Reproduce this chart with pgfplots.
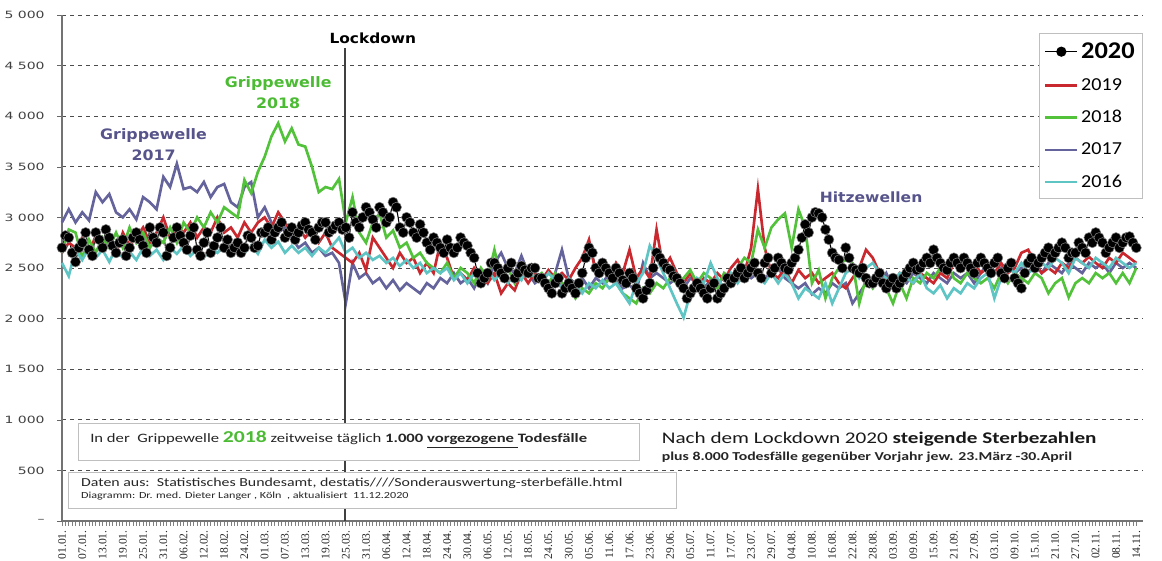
\documentclass[border=0pt]{standalone}
\usepackage{fontspec}
\setmainfont{Carlito}[FakeStretch=1.3]
\newfontfamily\legf{Carlito}[FakeStretch=1.1]
\newfontfamily\dvs{DejaVu Sans}[FakeStretch=1.1]
\newfontfamily\tickf{DejaVu Sans}[FakeStretch=1.4]
\newfontfamily\tms{Liberation Serif}
\usepackage{pgfplots}
\usepackage{pgfplotstable}
\pgfplotsset{compat=1.18}
\definecolor{c19}{HTML}{C8282E}
\definecolor{c18}{HTML}{52C23A}
\definecolor{c17}{HTML}{65639C}
\definecolor{c16}{HTML}{5EC4C4}
\definecolor{txtp}{HTML}{56548A}
\definecolor{txtg}{HTML}{4CBB34}

\pgfplotstableread{
d b c e f
0 2650 2650 2950 2550
2 2750 2880 3080 2420
4 2700 2850 2950 2680
6 2800 2600 3050 2580
8 2650 2780 2970 2700
10 2820 2650 3250 2600
12 2700 2800 3150 2680
14 2780 2700 3230 2560
16 2650 2850 3050 2700
18 2850 2700 3000 2600
20 2720 2900 3080 2660
22 2800 2750 2980 2580
24 2900 2850 3200 2700
26 2750 2700 3150 2620
28 2850 2800 3080 2680
30 3000 2750 3400 2580
32 2800 2900 3300 2700
34 2900 2750 3530 2640
36 2850 2950 3280 2720
38 2950 2850 3300 2620
40 2800 3000 3250 2680
42 2900 2900 3350 2600
44 2850 3050 3200 2700
46 3000 2950 3300 2650
48 2850 3100 3330 2720
50 2900 3050 3150 2620
52 2800 3000 3100 2700
54 2950 3370 3300 2650
56 2850 3240 3350 2720
58 2950 3450 3000 2640
60 3000 3600 3100 2780
62 2900 3800 2950 2700
64 3050 3930 2850 2760
66 2950 3750 2900 2650
68 2850 3880 2800 2720
70 2900 3720 2700 2650
72 2800 3700 2750 2700
74 2880 3500 2650 2620
76 2750 3250 2700 2700
78 2850 3300 2620 2650
80 2700 3280 2650 2720
82 2650 3380 2550 2800
84 2600 2950 2150 2650
86 2550 3200 2550 2700
88 2650 2850 2400 2600
90 2480 2750 2450 2650
92 2800 2950 2350 2580
94 2700 3040 2400 2620
96 2600 2800 2300 2550
98 2500 2870 2380 2600
100 2650 2700 2280 2520
102 2550 2750 2350 2580
104 2600 2600 2300 2500
106 2450 2650 2250 2550
108 2550 2550 2350 2450
110 2450 2500 2300 2500
112 2750 2450 2400 2450
114 2600 2550 2350 2500
116 2400 2400 2450 2380
118 2450 2500 2350 2450
120 2380 2450 2400 2350
122 2500 2350 2300 2450
124 2400 2500 2450 2400
126 2350 2400 2350 2480
128 2450 2680 2550 2380
130 2250 2400 2650 2450
132 2350 2500 2500 2350
134 2280 2350 2450 2450
136 2450 2450 2620 2380
138 2350 2500 2450 2500
140 2450 2400 2350 2400
142 2380 2450 2400 2350
144 2480 2350 2300 2450
146 2400 2450 2450 2380
148 2450 2350 2680 2300
150 2380 2300 2400 2400
152 2500 2200 2350 2330
154 2600 2300 2400 2250
156 2780 2250 2300 2350
158 2450 2350 2400 2300
160 2500 2300 2350 2380
162 2400 2400 2450 2300
164 2550 2350 2400 2350
166 2450 2250 2300 2250
168 2680 2200 2330 2150
170 2400 2150 2270 2350
172 2500 2300 2550 2450
174 2400 2250 2400 2720
176 2880 2350 2450 2600
178 2500 2300 2400 2450
180 2600 2400 2350 2300
182 2450 2350 2400 2150
184 2350 2400 2300 2010
186 2450 2480 2400 2250
188 2300 2350 2350 2400
190 2400 2450 2300 2350
192 2350 2400 2380 2550
194 2450 2300 2350 2400
196 2380 2450 2400 2300
198 2500 2400 2350 2450
200 2580 2500 2400 2350
202 2450 2600 2450 2450
204 2700 2550 2400 2550
206 3280 2880 2450 2400
208 2700 2700 2400 2350
210 2450 2900 2450 2450
212 2400 2980 2500 2350
214 2500 3040 2400 2450
216 2350 2700 2350 2350
218 2480 3080 2300 2200
220 2400 2900 2350 2300
222 2450 2350 2240 2250
224 2350 2480 2300 2200
226 2400 2200 2250 2350
228 2450 2400 2350 2150
230 2350 2500 2300 2300
232 2300 2600 2350 2450
234 2400 2550 2150 2500
236 2500 2150 2250 2400
238 2680 2400 2350 2500
240 2600 2300 2400 2550
242 2450 2400 2350 2450
244 2400 2300 2450 2400
246 2350 2150 2300 2350
248 2450 2350 2400 2450
250 2400 2200 2350 2400
252 2350 2400 2450 2350
254 2450 2350 2400 2450
256 2400 2450 2350 2300
258 2350 2400 2450 2250
260 2450 2500 2400 2330
262 2400 2550 2350 2200
264 2550 2400 2450 2300
266 2600 2350 2400 2250
268 2500 2450 2450 2350
270 2550 2400 2350 2300
272 2450 2350 2450 2400
274 2500 2400 2550 2450
276 2450 2300 2450 2200
278 2550 2450 2500 2400
280 2450 2350 2550 2500
282 2500 2450 2450 2450
284 2650 2400 2500 2550
286 2680 2350 2450 2450
288 2550 2450 2550 2500
290 2450 2400 2450 2550
292 2500 2250 2550 2500
294 2450 2350 2500 2600
296 2550 2400 2450 2550
298 2500 2210 2550 2450
300 2600 2350 2500 2600
302 2550 2400 2450 2550
304 2610 2350 2550 2500
306 2550 2450 2500 2600
308 2500 2400 2550 2550
310 2600 2450 2450 2500
312 2550 2350 2550 2600
314 2650 2450 2500 2550
316 2600 2350 2550 2500
318 2550 2500 2500 2550
}\data

\begin{document}
\begin{tikzpicture}
\begin{axis}[
  scale only axis, width=810.75pt, height=379.5pt,
  xmin=0, xmax=320, ymin=0, ymax=5000,
  axis x line=bottom, axis y line=left,
  axis line style={-, black!55, line width=0.9pt},
  tick align=outside,
  major tick length=3.5pt, minor tick length=3.5pt,
  xtick={0,6,...,318},
  xticklabels={01.01.,07.01.,13.01.,19.01.,25.01.,31.01.,06.02.,12.02.,18.02.,24.02.,01.03.,07.03.,13.03.,19.03.,25.03.,31.03.,06.04.,12.04.,18.04.,24.04.,30.04.,06.05.,12.05.,18.05.,24.05.,30.05.,05.06.,11.06.,17.06.,23.06.,29.06.,05.07.,11.07.,17.07.,23.07.,29.07.,04.08.,10.08.,16.08.,22.08.,28.08.,03.09.,09.09.,15.09.,21.09.,27.09.,03.10.,09.10.,15.10.,21.10.,27.10.,02.11.,08.11.,14.11.},
  minor x tick num=5,
  x tick style={black!50, line width=0.5pt},
  x tick label style={rotate=90, anchor=east, font=\tms\fontsize{8.7}{9}\selectfont, text=black!85},
  ytick={0,500,...,5000},
  yticklabels={–,500,1 000,1 500,2 000,2 500,3 000,3 500,4 000,4 500,5 000},
  y tick style={black!60},
  y tick label style={font=\tickf\fontsize{7.5}{8}\selectfont, text=black!75, xshift=-6pt},
  ymajorgrids, grid style={dashed, black!70, line width=0.5pt},
  clip=false,
  legend style={at={(rel axis cs:1,0.964)}, anchor=north east, draw=black!25, fill=white,
    font=\legf\fontsize{13.7}{15}\selectfont, row sep=9.5pt, inner xsep=4pt, inner ysep=5pt,
    cells={anchor=west}},
  legend image code/.code={\draw[mark repeat=2,mark phase=2,#1] plot coordinates {(0pt,0pt)(12pt,0pt)(24pt,0pt)};},
]
\addplot[black, line width=0.8pt, mark=*, mark size=3.8pt, mark options={fill=black, draw=black!50, line width=0.4pt}, forget plot] coordinates {
(0,2700)(1,2820)(2,2800)(3,2650)(4,2560)(5,2700)(6,2750)(7,2850)(8,2680)(9,2620)
(10,2850)(11,2780)(12,2700)(13,2880)(14,2800)(15,2720)(16,2650)(17,2750)(18,2780)(19,2620)
(20,2700)(21,2800)(22,2850)(23,2780)(24,2720)(25,2650)(26,2900)(27,2800)(28,2750)(29,2900)
(30,2850)(31,2620)(32,2700)(33,2800)(34,2900)(35,2820)(36,2750)(37,2680)(38,2820)(39,2900)
(40,2680)(41,2620)(42,2750)(43,2850)(44,2650)(45,2720)(46,2800)(47,2900)(48,2700)(49,2780)
(50,2650)(51,2700)(52,2750)(53,2650)(54,2700)(55,2820)(56,2800)(57,2700)(58,2720)(59,2850)
(60,2850)(61,2900)(62,2780)(63,2850)(64,2900)(65,2950)(66,2800)(67,2850)(68,2900)(69,2780)
(70,2850)(71,2920)(72,2950)(73,2880)(74,2850)(75,2780)(76,2900)(77,2950)(78,2950)(79,2850)
(80,2880)(81,2920)(82,2950)(83,2880)(84,2900)(85,2800)(86,3050)(87,2950)(88,2900)(89,3000)
(90,3100)(91,3050)(92,2980)(93,2900)(94,3100)(95,3050)(96,2950)(97,3000)(98,3150)(99,3100)
(100,2900)(101,2850)(102,3000)(103,2950)(104,2850)(105,2800)(106,2930)(107,2850)(108,2750)(109,2680)
(110,2800)(111,2750)(112,2700)(113,2650)(114,2780)(115,2700)(116,2650)(117,2700)(118,2800)(119,2750)
(120,2720)(121,2650)(122,2600)(123,2450)(124,2350)(125,2400)(126,2450)(127,2550)(128,2550)(129,2500)
(130,2450)(131,2400)(132,2500)(133,2550)(134,2400)(135,2450)(136,2520)(137,2480)(138,2450)(139,2500)
(140,2500)(141,2400)(142,2400)(143,2350)(144,2300)(145,2250)(146,2350)(147,2400)(148,2250)(149,2300)
(150,2350)(151,2300)(152,2250)(153,2350)(154,2450)(155,2600)(156,2700)(157,2650)(158,2500)(159,2450)
(160,2550)(161,2500)(162,2450)(163,2400)(164,2500)(165,2450)(166,2380)(167,2350)(168,2450)(169,2400)
(170,2300)(171,2250)(172,2200)(173,2280)(174,2350)(175,2500)(176,2650)(177,2600)(178,2550)(179,2500)
(180,2480)(181,2420)(182,2400)(183,2350)(184,2300)(185,2200)(186,2250)(187,2300)(188,2350)(189,2300)
(190,2250)(191,2200)(192,2300)(193,2350)(194,2200)(195,2250)(196,2300)(197,2400)(198,2350)(199,2400)
(200,2450)(201,2500)(202,2400)(203,2450)(204,2500)(205,2550)(206,2450)(207,2400)(208,2550)(209,2600)
(210,2450)(211,2500)(212,2600)(213,2550)(214,2500)(215,2480)(216,2550)(217,2600)(218,2680)(219,2800)
(220,2930)(221,2850)(222,3000)(223,3050)(224,3040)(225,3000)(226,2880)(227,2780)(228,2650)(229,2600)
(230,2580)(231,2500)(232,2700)(233,2600)(234,2500)(235,2480)(236,2450)(237,2500)(238,2400)(239,2350)
(240,2350)(241,2400)(242,2450)(243,2350)(244,2300)(245,2350)(246,2400)(247,2300)(248,2350)(249,2400)
(250,2450)(251,2500)(252,2550)(253,2480)(254,2500)(255,2550)(256,2600)(257,2550)(258,2680)(259,2600)
(260,2550)(261,2500)(262,2480)(263,2550)(264,2600)(265,2550)(266,2500)(267,2600)(268,2550)(269,2500)
(270,2450)(271,2550)(272,2600)(273,2550)(274,2500)(275,2450)(276,2550)(277,2600)(278,2450)(279,2400)
(280,2500)(281,2550)(282,2400)(283,2350)(284,2300)(285,2450)(286,2550)(287,2600)(288,2500)(289,2550)
(290,2600)(291,2650)(292,2700)(293,2600)(294,2650)(295,2700)(296,2750)(297,2700)(298,2600)(299,2650)
(300,2650)(301,2750)(302,2700)(303,2650)(304,2800)(305,2750)(306,2850)(307,2800)(308,2750)(309,2650)
(310,2700)(311,2750)(312,2800)(313,2700)(314,2750)(315,2800)(316,2810)(317,2750)(318,2700)
};
\addplot[c17, line width=2pt, forget plot] table[x=d,y=e]{\data};
\addplot[c19, line width=2pt, forget plot] table[x=d,y=b]{\data};
\addplot[c18, line width=2pt, forget plot] table[x=d,y=c]{\data};
\addplot[c16, line width=2pt, forget plot] table[x=d,y=f]{\data};

\draw[black!75, line width=1.3pt] (axis cs:83.7,0) -- (axis cs:83.7,4673);

\filldraw[fill=white, draw=black!25, line width=0.6pt] (axis cs:4.73,968) rectangle (axis cs:171,603);
\filldraw[fill=white, draw=black!25, line width=0.6pt] (axis cs:1.78,484) rectangle (axis cs:182,128);

\node[anchor=base west, inner sep=0pt, text=black!85, font=\fontsize{9.6}{10}\selectfont] at (axis cs:8.3,771)
  {In der\ \ Grippewelle {\color{txtg}\bfseries\fontsize{12.5}{12}\selectfont 2018} zeitweise täglich \textbf{1.000 \underline{vorgezogene }Todesfälle}};
\node[anchor=base west, inner sep=0pt, text=black!85, font=\fontsize{9.15}{10}\selectfont] at (axis cs:5.6,336)
  {Daten aus:\ \ Statistisches Bundesamt, destatis////Sonderauswertung-sterbefälle.html};
\node[anchor=base west, inner sep=0pt, text=black!85, font=\fontsize{7}{8}\selectfont] at (axis cs:5.6,227)
  {Diagramm: Dr. med. Dieter Langer , Köln\ \ , aktualisiert\ \ 11.12.2020};
\node[anchor=base west, inner sep=0pt, text=black!90, font=\fontsize{12.2}{13}\selectfont] at (axis cs:177.5,761)
  {Nach dem Lockdown 2020 \textbf{steigende Sterbezahlen}};
\node[anchor=base west, inner sep=0pt, text=black!85, font=\bfseries\fontsize{9.1}{10}\selectfont] at (axis cs:177.5,593)
  {plus 8.000 Todesfälle gegenüber Vorjahr jew. 23.März -30.April};

\node[anchor=base, inner sep=0pt, font=\dvs\bfseries\fontsize{10.5}{11}\selectfont] at (axis cs:92,4720) {Lockdown};
\node[anchor=base, inner sep=0pt, text=txtp, font=\dvs\bfseries\fontsize{10.8}{11}\selectfont] at (axis cs:27.1,3774) {Grippewelle};
\node[anchor=base, inner sep=0pt, text=txtp, font=\dvs\bfseries\fontsize{10.8}{11}\selectfont] at (axis cs:27.1,3560) {2017};
\node[anchor=base, inner sep=0pt, text=txtg, font=\dvs\bfseries\fontsize{10.8}{11}\selectfont] at (axis cs:64,4285) {Grippewelle};
\node[anchor=base, inner sep=0pt, text=txtg, font=\dvs\bfseries\fontsize{10.8}{11}\selectfont] at (axis cs:64,4080) {2018};
\node[anchor=base, inner sep=0pt, text=txtp, font=\dvs\bfseries\fontsize{10.6}{11}\selectfont] at (axis cs:239.5,3152) {Hitzewellen};

\addlegendimage{black, line width=1.2pt, mark=*, mark size=3.2pt, mark options={fill=black}}
\addlegendentry{\fontsize{18}{18}\selectfont\bfseries 2020}
\addlegendimage{c19, line width=1.8pt}
\addlegendentry{2019}
\addlegendimage{c18, line width=1.8pt}
\addlegendentry{2018}
\addlegendimage{c17, line width=1.8pt}
\addlegendentry{2017}
\addlegendimage{c16, line width=1.8pt}
\addlegendentry{2016}
\end{axis}
\pgfresetboundingbox
\path[use as bounding box] ([shift={(-46.5pt,-30pt)}]current axis.south west) rectangle ([shift={(14.25pt,11.25pt)}]current axis.north east);
\end{tikzpicture}
\end{document}
